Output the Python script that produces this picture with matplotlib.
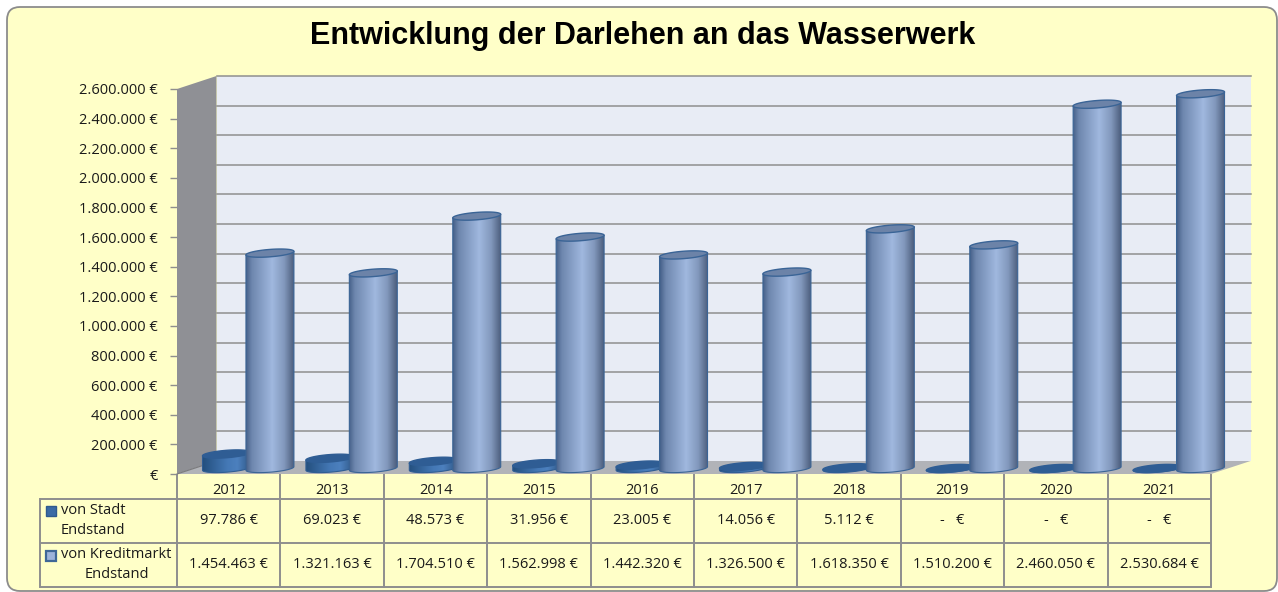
import numpy as np
import matplotlib
matplotlib.use("Agg")
import matplotlib.pyplot as plt
from matplotlib.colors import LinearSegmentedColormap
from matplotlib.patches import FancyBboxPatch, Polygon, Rectangle
from matplotlib.transforms import Affine2D
from matplotlib.ticker import FuncFormatter

years = [2012, 2013, 2014, 2015, 2016, 2017, 2018, 2019, 2020, 2021]
von_stadt = [97786, 69023, 48573, 31956, 23005, 14056, 5112, 0, 0, 0]
von_kreditmarkt = [1454463, 1321163, 1704510, 1562998, 1442320, 1326500, 1618350, 1510200, 2460050, 2530684]
y_ticks = list(range(0, 2600001, 200000))
title = "Entwicklung der Darlehen an das Wasserwerk"
series_names = ["von Stadt", "von Kreditmarkt"]
row_suffix = "Endstand"

W, H = 1278, 592
plt.rcParams["font.family"] = ["Open Sans", "DejaVu Sans"]
fig = plt.figure(figsize=(W / 100, H / 100), dpi=100, facecolor="white")
FS = 10.5


def money(v):
    return f"{v:,}".replace(",", ".") + " €" if v else "-   €"


# ---- pixel-space layer: card, title, table
bg = fig.add_axes([0, 0, 1, 1], zorder=0)
bg.set_xlim(0, W)
bg.set_ylim(H, 0)
bg.axis("off")
CARD = "#FFFFC8"
bg.add_patch(FancyBboxPatch((19, 19), 1246, 560, boxstyle="round,pad=12,rounding_size=13",
                            fc=CARD, ec="#8C8C8C", lw=1.3, mutation_aspect=1, clip_on=False))
bg.text(643, 36, title, ha="center", va="center", fontsize=22.0, fontweight="bold",
        family="Liberation Sans", color="black")

X0, CW = 177.0, 103.4
XL = 40
Y = [475, 498.5, 542.5, 587]
GRID = "#8E8E8E"
xr = X0 + CW * len(years)
for yy in Y[1:]:
    bg.plot([XL, xr], [yy, yy], color=GRID, lw=1.4, solid_capstyle="butt")
bg.plot([XL, XL], [Y[1], Y[3]], color=GRID, lw=1.4)
for i in range(len(years) + 1):
    bg.plot([X0 + i * CW] * 2, [Y[0], Y[3]], color=GRID, lw=1.4)

TXT = "#1A1A1A"
for i, yr in enumerate(years):
    cx = X0 + (i + 0.5) * CW
    bg.text(cx, 490, str(yr), ha="center", va="center", fontsize=FS, color=TXT)
    bg.text(cx, 520.5, money(von_stadt[i]), ha="center", va="center", fontsize=FS, color=TXT)
    bg.text(cx, 565, money(von_kreditmarkt[i]), ha="center", va="center", fontsize=FS, color=TXT)

bg.add_patch(Rectangle((46, 506), 10, 10, fc="#3B6BA5", ec="#2F5A8E", lw=1))
bg.add_patch(Rectangle((46, 551), 10, 10, fc="#9DB3DA", ec="#3F6797", lw=1.6))
bg.text(61, 511, series_names[0], ha="left", va="center", fontsize=FS, color=TXT)
bg.text(61, 530, row_suffix, ha="left", va="center", fontsize=FS, color=TXT)
bg.text(61, 555, series_names[1], ha="left", va="center", fontsize=FS, color=TXT)
bg.text(117, 574, row_suffix, ha="center", va="center", fontsize=FS, color=TXT)

# ---- data axes: front plane of the 3D box
y0_px, ytop_px = 474.0, 89.0
ax = fig.add_axes([X0 / W, 1 - y0_px / H, CW * len(years) / W, (y0_px - ytop_px) / H], zorder=1)
ax.patch.set_alpha(0)
for s in ax.spines.values():
    s.set_visible(False)
xmax = len(years)
ymax = y_ticks[-1]
DX, DY = 39.5, 13.0
wall_tf = ax.transData + Affine2D().translate(DX, DY)
bar_tf = ax.transData + Affine2D().translate(19.0, 5.5)

# back wall, side wall, floor
ax.add_patch(Rectangle((0, 0), xmax, ymax, transform=wall_tf, fc="#E8ECF5", ec="none",
                       clip_on=False, zorder=1))
side_pts = np.array([[0, 0], [DX, DY], [DX, DY + (y0_px - ytop_px)], [0, y0_px - ytop_px]])
base = ax.transData.transform((0, 0))
side = Polygon(side_pts + base, closed=True, transform=None, fc="#8F9095", ec="none", zorder=1, clip_on=False)
ax.add_patch(side)
floor_w = CW * xmax
floor = Polygon(np.array([[0, 0], [floor_w, 0], [floor_w + DX, DY], [DX, DY]]) + base, closed=True, transform=None,
                fc="#B1B3B8", ec="none", zorder=1.5, clip_on=False)
ax.add_patch(floor)

for v in y_ticks[1:]:
    ax.plot([0, xmax], [v, v], transform=wall_tf, color="#8F8F8F", lw=1.1, clip_on=False, zorder=2)
for v in y_ticks:
    p = ax.transData.transform((0, v))
    ax.plot([p[0], p[0] + DX], [p[1], p[1] + DY], transform=None, color="#7A7A7E", lw=0.8, clip_on=False, zorder=2)

dark_cmap = LinearSegmentedColormap.from_list("stadt", [(0, "#24507F"), (0.5, "#4478B5"), (0.72, "#4C80BE"), (1, "#2F5786")])
light_cmap = LinearSegmentedColormap.from_list("kredit", [(0, "#46618A"), (0.12, "#6E87AE"), (0.55, "#A0B8DF"),
                                                         (0.8, "#8298BC"), (1, "#4D5F7E")])
grad = np.linspace(0, 1, 128).reshape(1, -1)

RX = 0.232
RY = 3.7 / 29.615 * 200000
TILT = 1.8 / 29.615 * 200000
t = np.linspace(0, 2 * np.pi, 90)


def cylinder(cx, val, cmap, top_fc, edge, z):
    tb = np.linspace(np.pi, 2 * np.pi, 40)
    bottom = np.c_[cx + RX * np.cos(tb), RY * np.sin(tb) + TILT * np.cos(tb)]
    tt = np.linspace(0, np.pi, 40)
    top = np.c_[cx + RX * np.cos(tt), val + TILT * np.cos(tt)]
    outline = np.r_[bottom, top]
    ax.add_patch(Polygon(outline, closed=True, transform=bar_tf, fc="none", ec=edge, lw=0.8,
                         clip_on=False, zorder=z + 0.1))
    im = ax.imshow(grad, cmap=cmap, extent=(cx - RX, cx + RX, -RY - TILT, val + RY + TILT), aspect="auto",
                   transform=bar_tf, zorder=z, interpolation="bilinear")
    im.set_clip_box(fig.bbox)
    im.set_clip_path(Polygon(outline, closed=True, transform=bar_tf))
    cap = np.c_[cx + RX * np.cos(t), val + RY * np.sin(t) + TILT * np.cos(t)]
    ax.add_patch(Polygon(cap, closed=True, transform=bar_tf, fc=top_fc, ec=edge, lw=1.0, clip_on=False, zorder=z + 0.2))


for i in range(len(years)):
    cylinder(i + 0.295, von_stadt[i], dark_cmap, "#2F5D94", "#2F5D94", 3)
for i in range(len(years)):
    cylinder(i + 0.715, von_kreditmarkt[i], light_cmap, "#6C83A8", "#3A6496", 4)

ax.set_xlim(0, xmax)
ax.set_ylim(0, ymax)
ax.set_xticks([])
ax.set_yticks(y_ticks)
ax.yaxis.set_major_formatter(FuncFormatter(lambda v, _: f"{int(v):,}".replace(",", ".") + " €" if v else "€"))
ax.tick_params(axis="y", length=5, width=1, color="#8E8E8E", labelsize=FS, labelcolor=TXT, pad=9)

fig.savefig("out.png", dpi=100, facecolor="white")
